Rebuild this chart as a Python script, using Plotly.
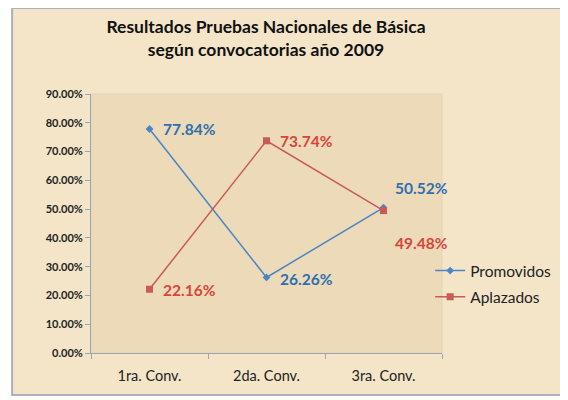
import plotly.graph_objects as go

categories = ["1ra. Conv.", "2da. Conv.", "3ra. Conv."]
promovidos = [0.7784, 0.2626, 0.5052]
aplazados = [0.2216, 0.7374, 0.4948]
series_names = ["Promovidos", "Aplazados"]
title_text = "Resultados Pruebas Nacionales de Básica<br>según convocatorias año 2009"

blue = "#4A86C5"
red = "#C85A58"
blue_lbl = "#2E6FAE"
red_lbl = "#D9453A"

fig = go.Figure()
fig.add_trace(go.Scatter(
    x=categories, y=promovidos, name=series_names[0], mode="lines+markers",
    legendgroup="p",
    line=dict(color=blue, width=1.5),
    marker=dict(symbol="diamond", size=6, color=blue),
))
fig.add_trace(go.Scatter(
    x=categories, y=aplazados, name=series_names[1], mode="lines+markers",
    legendgroup="a",
    line=dict(color=red, width=1.5),
    marker=dict(symbol="square", size=7, color=red),
))

# data labels
p_shift = [(11, 0), (11, -2), (9, 20)]
a_shift = [(11, -1), (11, 0), (9, -32)]
annots = []
for i, c in enumerate(categories):
    annots.append(dict(x=c, y=promovidos[i], xref="x", yref="y", text=f"{promovidos[i]*100:.2f}%",
                       showarrow=False, xanchor="left", yanchor="middle",
                       xshift=p_shift[i][0], yshift=p_shift[i][1],
                       font=dict(family="Lato", size=15.5, color=blue_lbl, weight="bold")))
    annots.append(dict(x=c, y=aplazados[i], xref="x", yref="y", text=f"{aplazados[i]*100:.2f}%",
                       showarrow=False, xanchor="left", yanchor="middle",
                       xshift=a_shift[i][0], yshift=a_shift[i][1],
                       font=dict(family="Lato", size=15.5, color=red_lbl, weight="bold")))

# page has an 8px body margin: figure spans page x 8..568, y 8..400
W, H = 560, 392
L, R, T, B = 83, 121, 86, 47
pw, ph = W - L - R, H - T - B
def px(x):
    return (x - 8 - L) / pw
def py(y):
    return (H - B - (y - 8)) / ph

shapes = [
    dict(type="rect", xref="paper", yref="paper", layer="below",
         x0=px(11), x1=px(580), y0=py(395), y1=py(8),
         fillcolor="#F4E5C8", line=dict(color="#A9B2BC", width=2)),
    dict(type="rect", xref="paper", yref="paper", layer="below",
         x0=0, x1=1, y0=0, y1=1,
         fillcolor="#ECDAB9", line=dict(color="#E4D3B6", width=1)),
]

fig.update_layout(
    width=W, height=H,
    margin=dict(l=L, r=R, t=T, b=B),
    paper_bgcolor="white",
    plot_bgcolor="rgba(0,0,0,0)",
    title=dict(text=title_text, x=(266 - 8) / W, xref="container", xanchor="center",
               y=0.936, yref="container", yanchor="top",
               font=dict(family="Lato", size=17.5, color="#111111", weight="bold")),
    font=dict(family="Lato", color="#222222"),
    showlegend=True,
    legend=dict(x=px(435), y=py(254), xanchor="left", yanchor="top",
                bgcolor="rgba(0,0,0,0)", font=dict(size=15.5, color="#222222"),
                tracegroupgap=3, itemwidth=30),
    shapes=shapes,
    annotations=annots,
)
fig.update_xaxes(
    type="category", range=[-0.5, len(categories) - 0.5],
    showgrid=False, showline=True, linecolor="#9AA6B2", linewidth=1,
    ticks="outside", tickson="boundaries", ticklen=5, tickcolor="#9AA6B2",
    ticklabelstandoff=10,
    tickfont=dict(family="Lato", size=14.5, color="#222222"), zeroline=False,
)
fig.update_yaxes(
    range=[0, 0.9], dtick=0.1, tickformat=".2%", showgrid=False,
    showline=True, linecolor="#9AA6B2", linewidth=1,
    ticks="outside", ticklen=5, tickcolor="#9AA6B2",
    tickfont=dict(family="Lato", size=11, color="#222222", weight="bold"), zeroline=False,
)

fig.write_html("out.html")
